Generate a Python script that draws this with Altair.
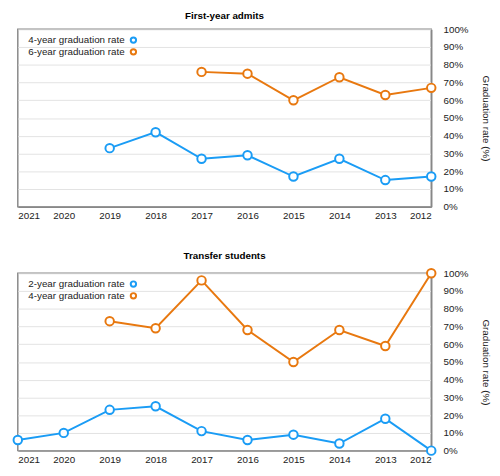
import altair as alt
import pandas as pd

years = [2012, 2013, 2014, 2015, 2016, 2017, 2018, 2019, 2020, 2021]

first_4yr = [17, 15, 27, 17, 29, 27, 42, 33, None, None]
first_6yr = [67, 63, 73, 60, 75, 76, None, None, None, None]
transfer_2yr = [0, 18, 4, 9, 6, 11, 25, 23, 10, 6]
transfer_4yr = [100, 59, 68, 50, 68, 96, 69, 73, None, None]

y_ticks = [0, 10, 20, 30, 40, 50, 60, 70, 80, 90, 100]

BLUE = "#1a9cf5"
ORANGE = "#e8780f"


def long(series):
    rows = []
    for name, vals in series:
        for yr, v in zip(years, vals):
            if v is not None:
                rows.append({"year": yr, "rate": v, "series": name})
    return pd.DataFrame(rows)


def panel(title, series):
    df = long(series)
    names = [s[0] for s in series]
    return alt.Chart(df, title=alt.Title(title, fontSize=10, fontWeight="bold",
                                         font="Liberation Sans", offset=4)).mark_line(
        strokeWidth=2,
        point=alt.OverlayMarkDef(filled=False, fill="white", size=75, strokeWidth=2, opacity=1),
    ).encode(
        x=alt.X("year:Q", scale=alt.Scale(domain=[2012, 2021], reverse=True, nice=False),
                axis=alt.Axis(values=years, format="d", title=None, grid=False, ticks=False,
                              labelPadding=4, domainColor="#888", domainWidth=1.5)),
        y=alt.Y("rate:Q", scale=alt.Scale(domain=[0, 100]),
                axis=alt.Axis(orient="right", values=y_ticks, labelExpr="datum.value + '%'",
                              title="Graduation rate (%)", titleFontWeight="normal",
                              titleFontSize=10, ticks=False, labelPadding=12,
                              domainColor="#888", domainWidth=1.5, gridColor="#e2e2e2",
                              titlePadding=13)),
        color=alt.Color("series:N", sort=names,
                        scale=alt.Scale(domain=names, range=[BLUE, ORANGE]),
                        legend=alt.Legend(title=None, orient="none", legendX=113, legendY=6,
                                          padding=0, symbolType="circle",
                                          symbolFillColor="white", symbolStrokeWidth=2,
                                          symbolSize=30, labelFontSize=10, rowPadding=-2,
                                          labelAlign="right", labelOffset={"expr": "-14"})),
    ).properties(width=422, height=181)


top = panel("First-year admits", [("4-year graduation rate", first_4yr),
                                    ("6-year graduation rate", first_6yr)])
bottom = panel("Transfer students", [("2-year graduation rate", transfer_2yr),
                                     ("4-year graduation rate", transfer_4yr)])

chart = alt.vconcat(top, bottom, spacing=29).resolve_scale(color="independent").configure(
    font="Liberation Sans",
    padding={"left": 0, "top": -3, "right": 0, "bottom": 0},
).configure_axis(
    labelFont="Liberation Sans", labelFontSize=10, labelColor="#222",
    titleFont="Liberation Sans", titleColor="#222",
).configure_legend(labelFont="Liberation Sans", labelColor="#222").configure_view(
    stroke="#888", strokeWidth=1.5
)

chart.save("out.html", embed_options={"renderer": "svg", "actions": False})
